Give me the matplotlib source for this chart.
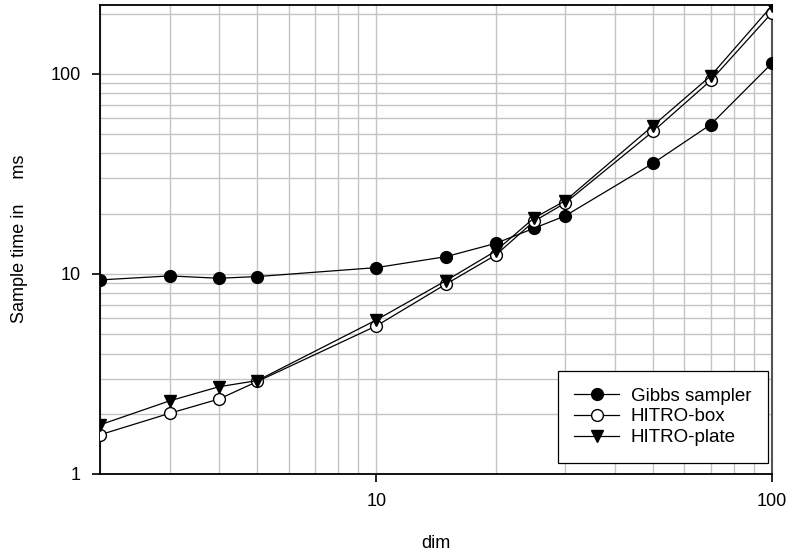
import matplotlib
matplotlib.use("Agg")
import matplotlib.pyplot as plt
from matplotlib.ticker import FixedLocator, NullFormatter

plt.rcParams["font.family"] = ["Liberation Sans", "DejaVu Sans"]

# dimensions
dims = [2, 3, 4, 5, 10, 15, 20, 25, 30, 50, 70, 100]

# sample times
gibbs = [9.33, 9.77, 9.51, 9.70, 10.75, 12.2, 14.2, 16.9, 19.5, 35.7, 55.8, 113]
hitro_box = [1.57, 2.01, 2.37, 2.90, 5.5, 8.9, 12.4, 18.3, 22.6, 51.5, 92.6, 202]
hitro_plate = [1.76, 2.32, 2.73, 2.93, 5.89, 9.26, 13.0, 19.0, 23.2, 55.0, 97.7, 219]

fig = plt.figure(figsize=(7.89, 5.56), dpi=100)
ax = fig.add_axes([0.1267, 0.1475, 0.8518, 0.8444])

ax.set_xscale("log")
ax.set_yscale("log")

mk = dict(color="black", linewidth=0.9, markersize=8.5, markeredgewidth=1.0)
ax.plot(dims, gibbs, marker="o", markerfacecolor="black", label="Gibbs sampler", zorder=3, **mk)
ax.plot(dims, hitro_box, marker="o", markerfacecolor="white", label="HITRO-box", zorder=4, **mk)
ax.plot(dims, hitro_plate, marker="v", markerfacecolor="black", label="HITRO-plate", zorder=5, **mk)

ax.set_xlim(2, 100)
ax.set_ylim(1, 222)

# grid at every minor decade step
xminor = [2, 3, 4, 5, 6, 7, 8, 9, 20, 30, 40, 50, 60, 70, 80, 90]
yminor = [2, 3, 4, 5, 6, 7, 8, 9, 20, 30, 40, 50, 60, 70, 80, 90, 200]
ax.xaxis.set_major_locator(FixedLocator([10, 100]))
ax.yaxis.set_major_locator(FixedLocator([1, 10, 100]))
ax.xaxis.set_minor_locator(FixedLocator(xminor))
ax.yaxis.set_minor_locator(FixedLocator(yminor))
ax.xaxis.set_minor_formatter(NullFormatter())
ax.yaxis.set_minor_formatter(NullFormatter())
ax.set_xticklabels(["10", "100"])
ax.set_yticklabels(["1", "10", "100"])

ax.grid(True, which="both", color="#c4c4c4", linewidth=1.0)
ax.set_axisbelow(True)

ax.tick_params(which="major", direction="out", length=6, width=1.2,
               labelsize=13, pad=8, top=False, right=False)
ax.tick_params(which="minor", length=0)

for side in ["left", "bottom", "top"]:
    ax.spines[side].set_color("black")
    ax.spines[side].set_linewidth(1.3)
ax.spines["right"].set_color("#555555")
ax.spines["right"].set_linewidth(1.5)

ax.set_xlabel("dim", fontsize=13, labelpad=18)
ax.set_ylabel("Sample time in     ms", fontsize=13, labelpad=16)

leg = ax.legend(loc="lower right", fontsize=13.5, frameon=True, fancybox=False,
                edgecolor="black", framealpha=1, handlelength=2.4,
                labelspacing=0.2, borderpad=0.9, handletextpad=0.6,
                borderaxespad=0, bbox_to_anchor=(0.994, 0.023))
leg.get_frame().set_linewidth(0.9)

fig.savefig("out.png", dpi=100)
